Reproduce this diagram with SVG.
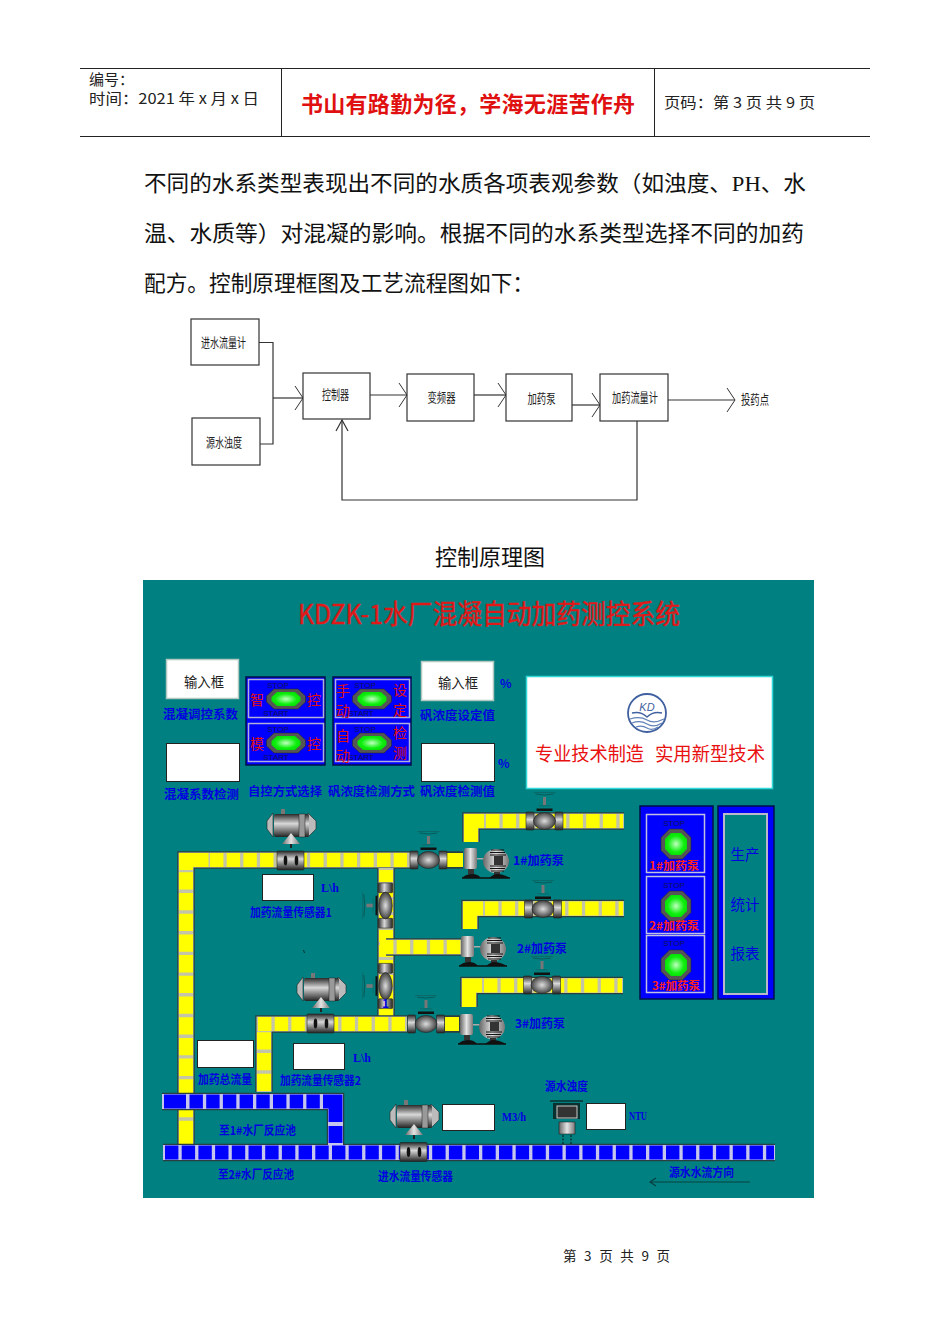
<svg xmlns="http://www.w3.org/2000/svg" width="950" height="1344" viewBox="0 0 950 1344">
<style>
text{font-family:"Noto Sans CJK SC","Liberation Sans",sans-serif}
.b{fill:#111;font-size:22px;font-family:"Liberation Serif","Noto Sans CJK SC",serif}
.hd{fill:#222;font-size:15px}
.fl{fill:#222;font-size:13px;text-anchor:middle}
.fb{fill:#fff;stroke:#333;stroke-width:1.2}
.cn{fill:none;stroke:#333;stroke-width:1.2}
.l{fill:#0000e0;font-size:12px;font-weight:700}
.t{fill:#e01010;font-size:14px;text-anchor:middle}
.s{fill:#101050;font-size:8px;font-family:"Liberation Sans",sans-serif;text-anchor:middle}
.wb{fill:#fff;stroke:#222;stroke-width:1}
.po{fill:none;stroke:#2a3f3f;stroke-width:17.5;stroke-linejoin:miter}
.pc{fill:none;stroke:#c4c4a8;stroke-width:15;stroke-linejoin:miter}
.py{fill:none;stroke:#ff0;stroke-width:14}
.pb{fill:none;stroke:#00f;stroke-width:14}
.pl{fill:none;stroke:#c4c4ec;stroke-width:15;stroke-linejoin:miter}
.h{stroke-dasharray:13.4 3.3}
.v{stroke-dasharray:17.3 3.4}
.pt{fill:#ff2020;font-size:11px;font-weight:700;text-anchor:middle}
</style>
<defs>
<linearGradient id="gv" x1="0" y1="0" x2="0" y2="1"><stop offset="0" stop-color="#2a2a2a"/><stop offset=".42" stop-color="#d8d8d8"/><stop offset="1" stop-color="#222"/></linearGradient>
<linearGradient id="gh" x1="0" y1="0" x2="1" y2="0"><stop offset="0" stop-color="#666"/><stop offset=".5" stop-color="#e4e4e4"/><stop offset="1" stop-color="#777"/></linearGradient>
<radialGradient id="gb" cx=".5" cy=".5" r=".55"><stop offset="0" stop-color="#ddd"/><stop offset="1" stop-color="#333"/></radialGradient>
<radialGradient id="gg" cx=".5" cy=".5" r=".6"><stop offset="0" stop-color="#c0ffc0"/><stop offset=".6" stop-color="#10f010"/><stop offset="1" stop-color="#00d800"/></radialGradient>
<marker id="ah" markerWidth="10" markerHeight="28" refX="9" refY="13" orient="auto" markerUnits="userSpaceOnUse"><path d="M1,1 L9,13 L1,25" fill="none" stroke="#333" stroke-width="1"/></marker>
<g id="valve">
<path d="M-11,-28.500 H11" stroke="#0a6a6a" stroke-width="1"/>
<path d="M-9,-27 Q0,-25 9,-27" fill="none" stroke="#0a5050" stroke-width=".8"/>
<rect x="-1.500" y="-24" width="3" height="9" fill="#777"/>
<rect x="-6" y="-16" width="12" height="1.500" fill="#0a7070"/>
<rect x="-8" y="-12.500" width="16" height="2.500" fill="#111"/>
<rect x="-18.500" y="-9" width="8" height="18" rx="1" fill="url(#gv)" stroke="#222" stroke-width=".6"/>
<rect x="10.500" y="-9" width="8" height="18" rx="1" fill="url(#gv)" stroke="#222" stroke-width=".6"/>
<ellipse rx="11" ry="8.500" fill="url(#gb)" stroke="#222" stroke-width=".6"/>
</g>
<g id="pump">
<rect x="0" y="1" width="13" height="21" rx="2" fill="url(#gh)"/>
<rect x="4" y="22" width="6" height="5" fill="#333"/>
<path d="M-2,31 Q2,27 8,27 Q14,27 17,31 Z" fill="#111"/>
<rect x="13" y="11" width="8" height="1.500" fill="#aaa"/>
<ellipse cx="32" cy="14" rx="13" ry="12" fill="url(#gh)"/>
<path d="M27,3 H40 M26,5.500 H41 M26,8 H42 M26,19 H42 M26,21.500 H41 M27,24 H40" stroke="#111" stroke-width="1.200"/>
<rect x="30" y="9" width="9" height="9" fill="#333"/>
<rect x="30" y="25" width="6" height="3" fill="#333"/>
<path d="M25,31 Q30,27 33,27 Q39,27 46,31 Z" fill="#111"/>
<path d="M-2,31 H46" stroke="#111" stroke-width="1.500"/>
</g>
<g id="meter">
<rect x="0" y="0" width="27" height="19" rx="1" fill="url(#gv)" stroke="#222" stroke-width=".6"/>
<ellipse cx="8.500" cy="9.500" rx="1.800" ry="5" fill="#111"/>
<ellipse cx="19.500" cy="9.500" rx="1.800" ry="5" fill="#111"/>
</g>
<g id="sensor">
<rect x="14" y="0" width="4" height="6" fill="#777"/>
<path d="M0,12 L6,4 V28 L0,20 Z M49,12 L41,4 V28 L49,20 Z" fill="#bbb" stroke="#222" stroke-width=".6"/>
<rect x="7" y="5" width="35" height="23" rx="2" fill="url(#gv)"/>
<rect x="32" y="5" width="6" height="23" fill="#999" stroke="#222" stroke-width=".5"/>
<path d="M15,35 L24,24 L33,35 Z" fill="url(#gh)"/>
<rect x="23" y="35" width="2" height="4" fill="#222"/>
</g>
<g id="lamp">
<polygon points="-12,-10 12,-10 19.500,-3 19.500,3 12,10 -12,10 -19.500,3 -19.500,-3" fill="#555" stroke="#222" stroke-width=".5"/>
<polygon points="-9,-7 9,-7 14.500,-2 14.500,2 9,7 -9,7 -14.500,2 -14.500,-2" fill="url(#gg)"/>
</g>
<g id="lamp2">
<polygon points="-6.500,-15 6.500,-15 15,-6.500 15,6.500 6.500,15 -6.500,15 -15,6.500 -15,-6.500" fill="#555" stroke="#222" stroke-width=".5"/>
<polygon points="-5,-11 5,-11 11,-5 11,5 5,11 -5,11 -11,5 -11,-5" fill="url(#gg)"/>
</g>
</defs>

<rect width="950" height="1344" fill="#fff"/>

<g id="header">
<path d="M80,68.500 H870 M80,136.500 H870 M281.500,68 V136 M654.500,68 V136" stroke="#222" stroke-width="1" fill="none"/>
<text class="hd" x="89" y="85">编号：</text>
<text class="hd" x="89" y="104" textLength="170" lengthAdjust="spacingAndGlyphs">时间：2021 年 x 月 x 日</text>
<text x="301" y="112" fill="#e01010" font-size="22" font-weight="700" textLength="334">书山有路勤为径，学海无涯苦作舟</text>
<text class="hd" x="664" y="108" textLength="151" lengthAdjust="spacingAndGlyphs">页码：第 3 页 共 9 页</text>
</g>

<g id="body-text">
<text class="b" x="144" y="191" textLength="662" lengthAdjust="spacingAndGlyphs">不同的水系类型表现出不同的水质各项表观参数（如浊度、PH、水</text>
<text class="b" x="144" y="241" textLength="660" lengthAdjust="spacingAndGlyphs">温、水质等）对混凝的影响。根据不同的水系类型选择不同的加药</text>
<text class="b" x="144" y="291" textLength="390" lengthAdjust="spacingAndGlyphs">配方。控制原理框图及工艺流程图如下：</text>
<text class="b" x="490" y="565" text-anchor="middle">控制原理图</text>
</g>

<g id="connectors">
<path class="cn" d="M259,342.500 H273 V444 H260"/>
<path class="cn" d="M273,398 H303" marker-end="url(#ah)"/>
<path class="cn" d="M370,395 H407" marker-end="url(#ah)"/>
<path class="cn" d="M474,395 H506" marker-end="url(#ah)"/>
<path class="cn" d="M572,405 H600" marker-end="url(#ah)"/>
<path class="cn" d="M668,400 H735" marker-end="url(#ah)"/>
<path class="cn" d="M637,421 V500 H342 V420"/>
<path class="cn" d="M336,431 L342,420 L348,431"/>
</g>
<g id="n-inflow"><rect class="fb" x="191" y="319" width="68" height="46"/><text class="fl" x="223.500" y="347" textLength="45" lengthAdjust="spacingAndGlyphs">进水流量计</text></g>
<g id="n-turbidity"><rect class="fb" x="192" y="418" width="68" height="47"/><text class="fl" x="224" y="447" textLength="36" lengthAdjust="spacingAndGlyphs">源水浊度</text></g>
<g id="n-controller"><rect class="fb" x="303" y="373" width="67" height="46"/><text class="fl" x="335.500" y="399" textLength="27" lengthAdjust="spacingAndGlyphs">控制器</text></g>
<g id="n-vfd"><rect class="fb" x="407" y="374" width="67" height="47"/><text class="fl" x="441.500" y="402" textLength="28" lengthAdjust="spacingAndGlyphs">变频器</text></g>
<g id="n-pump"><rect class="fb" x="506" y="374" width="66" height="47"/><text class="fl" x="541.500" y="403" textLength="28" lengthAdjust="spacingAndGlyphs">加药泵</text></g>
<g id="n-dosemeter"><rect class="fb" x="600" y="374" width="68" height="47"/><text class="fl" x="635" y="402" textLength="46" lengthAdjust="spacingAndGlyphs">加药流量计</text></g>
<g id="n-point"><text class="fl" x="755" y="404" textLength="28" lengthAdjust="spacingAndGlyphs">投药点</text></g>

<g id="scada">
<rect x="143" y="580" width="671" height="618" fill="#008080"/>
<text x="298" y="624" fill="#e01818" stroke="#e01818" stroke-width=".4" font-size="27" textLength="382" lengthAdjust="spacingAndGlyphs">KDZK-1水厂混凝自动加药测控系统</text>

<g id="inputs">
<rect x="166.500" y="659.500" width="72" height="39" fill="#fff" stroke="#b0c8c0" stroke-width="1.500"/>
<text x="184" y="687" font-size="14" fill="#222" textLength="40" lengthAdjust="spacingAndGlyphs">输入框</text>
<rect x="421.500" y="661.500" width="72" height="39" fill="#fff" stroke="#b0c8c0" stroke-width="1.500"/>
<text x="438" y="688" font-size="14" fill="#222" textLength="40" lengthAdjust="spacingAndGlyphs">输入框</text>
<rect class="wb" x="166.500" y="743.500" width="73" height="38"/>
<rect class="wb" x="421.500" y="743.500" width="73" height="38"/>
<rect class="wb" x="262.500" y="874.500" width="51" height="26"/>
<rect class="wb" x="197.500" y="1040.500" width="56" height="27"/>
<rect class="wb" x="293.500" y="1043.500" width="51" height="26"/>
<rect class="wb" x="442.500" y="1104.500" width="52" height="26"/>
<rect class="wb" x="586.500" y="1103.500" width="39" height="26"/>
</g>

<g id="buttons">
<rect x="246" y="677" width="79" height="88" fill="#00f" stroke="#00104a" stroke-width="1.500"/>
<rect x="333" y="677" width="78" height="88" fill="#00f" stroke="#00104a" stroke-width="1.500"/>
<rect x="248.500" y="679.500" width="75" height="38" fill="#00f" stroke="#b0b0d8" stroke-width="1.500"/>
<rect x="248.500" y="723.500" width="75" height="38" fill="#00f" stroke="#b0b0d8" stroke-width="1.500"/>
<rect x="335.500" y="679.500" width="74" height="38" fill="#00f" stroke="#b0b0d8" stroke-width="1.500"/>
<rect x="335.500" y="723.500" width="74" height="38" fill="#00f" stroke="#b0b0d8" stroke-width="1.500"/>
<use href="#lamp" x="286" y="699"/><use href="#lamp" x="286" y="743"/><use href="#lamp" x="372" y="699"/><use href="#lamp" x="372" y="743"/>
<text class="s" x="278" y="688">STOP</text><text class="s" x="276" y="716">START</text>
<text class="s" x="278" y="732">STOP</text><text class="s" x="276" y="760">START</text>
<text class="s" x="365" y="688">STOP</text><text class="s" x="361" y="716">START</text>
<text class="s" x="365" y="732">STOP</text><text class="s" x="361" y="760">START</text>
<text class="t" x="257" y="705">智</text><text class="t" x="314" y="705">控</text>
<text class="t" x="257" y="749">模</text><text class="t" x="314" y="749">控</text>
<text class="t" x="343" y="696">手</text><text class="t" x="343" y="716">动</text>
<text class="t" x="400" y="695">设</text><text class="t" x="400" y="715">定</text>
<text class="t" x="343" y="741">自</text><text class="t" x="343" y="761">动</text>
<text class="t" x="400" y="738">检</text><text class="t" x="400" y="758">测</text>
</g>

<g id="logo-panel">
<rect x="526.500" y="676.500" width="246" height="112" fill="#fff" stroke="#30d8d8" stroke-width="1.500"/>
<circle cx="647" cy="713" r="19" fill="#fff" stroke="#4060a0" stroke-width="1.800"/>
<path d="M632,713 Q641,711 647,717 Q653,711 662,713" fill="none" stroke="#4060a0" stroke-width="1.300"/>
<path d="M630,719 Q640,716 647,720 T664,719 M632,723 Q640,720 647,724 T662,723 M636,727 Q642,725 647,728 T658,727" fill="none" stroke="#6080b8" stroke-width="1.200"/>
<text x="647" y="711" font-size="11" font-style="italic" fill="#4060a0" text-anchor="middle" style="font-family:'Liberation Sans',sans-serif">KD</text>
<text x="535" y="761" font-size="19" fill="#e81010" textLength="109" lengthAdjust="spacingAndGlyphs">专业技术制造</text>
<text x="655" y="761" font-size="19" fill="#e81010" textLength="110" lengthAdjust="spacingAndGlyphs">实用新型技术</text>
</g>

<g id="pipes-yellow">
<path class="po" d="M186,1144 V860 H410"/><path class="pc" d="M186,1144 V860 H410"/>
<path class="py v" d="M186,1138 V869"/><path class="py" d="M186,1144 V1137"/><path class="py" d="M186,870 V860 H208.500"/><path class="py h" d="M210,860 H410"/>
<path class="po" d="M386,868 V1016"/><path class="pc" d="M386,868 V1016"/><path class="py" d="M386,870 V1016" stroke-dasharray="12 3"/>
<path class="po" d="M386,947 H461"/><path class="pc" d="M386,947 H461"/><path class="py h" d="M380,947 H461"/>
<path class="po" d="M264,1092 V1024 H407"/><path class="pc" d="M264,1092 V1024 H407"/>
<path class="py v" d="M264,1091 V1032"/><path class="py h" d="M258,1024 H407"/>
<path class="po" d="M445,860 H463"/><path class="py" d="M447,860 H463"/>
<path class="po" d="M443,1024 H460"/><path class="py" d="M445,1024 H459"/>
<path class="po" d="M471,842 V821 H624"/><path class="pc" d="M471,842 V821 H624"/><path class="py" d="M471,842 V821 H484"/><path class="py h" d="M486,821 H623"/>
<path class="po" d="M470,929 V908.500 H624"/><path class="pc" d="M470,929 V908.500 H624"/><path class="py" d="M470,929 V908.500 H483"/><path class="py h" d="M485,908.500 H623"/>
<path class="po" d="M469,1007 V985.500 H623"/><path class="pc" d="M469,1007 V985.500 H623"/><path class="py" d="M469,1007 V985.500 H482"/><path class="py h" d="M484,985.500 H622"/>
</g>

<g id="pipes-blue">
<path class="po" d="M163,1152.500 H775"/><path class="pl" d="M163,1152.500 H775"/><path class="pb h" d="M165,1152.500 H774"/>
<path class="po" d="M162,1101.500 H335.500 V1145"/><path class="pl" d="M162,1101.500 H335.500 V1145"/>
<path class="pb" d="M164,1101.500 H186"/><path class="pb h" d="M189.500,1101.500 H320"/>
<path class="pb" d="M323,1101.500 H335.500 V1122"/><path class="pb" d="M335.500,1126 V1143"/>
</g>

<g id="valves">
<use href="#valve" transform="translate(428.500,860)"/>
<use href="#valve" transform="translate(426,1024)"/>
<use href="#valve" transform="translate(544.500,821)"/>
<use href="#valve" transform="translate(543,909)"/>
<use href="#valve" transform="translate(542,985)"/>
<use href="#valve" transform="translate(385.500,905.500) rotate(-90) scale(1.220,.8)"/>
<use href="#valve" transform="translate(385.500,986) rotate(-90) scale(1.220,.8)"/>
</g>
<g id="pumps">
<use href="#pump" transform="translate(464,847)"/>
<use href="#pump" transform="translate(461,935)"/>
<use href="#pump" transform="translate(460,1013)"/>
</g>
<g id="sensors">
<use href="#meter" transform="translate(277,851)"/>
<use href="#meter" transform="translate(307,1014)"/>
<use href="#meter" transform="translate(400,1142.500)"/>
<use href="#sensor" transform="translate(267,809)"/>
<use href="#sensor" transform="translate(297,973)"/>
<use href="#sensor" transform="translate(390,1100)"/>
</g>
<g id="turbidity-sensor">
<path d="M550,1101 H583" stroke="#0a3030" stroke-width="1.500"/>
<rect x="553" y="1103" width="27" height="16" fill="#0a3030"/>
<rect x="557" y="1106" width="20" height="12" fill="#333" stroke="#ccc" stroke-width="1"/>
<rect x="559" y="1122" width="16" height="12" fill="url(#gh)" stroke="#111" stroke-width=".5"/>
<path d="M563,1135 V1144 M571,1135 V1144" stroke="#111" stroke-dasharray="2 1.500"/>
</g>

<g id="pump-panel">
<rect x="640" y="806" width="73" height="193" fill="#00f" stroke="#00104a" stroke-width="1.500"/>
<rect x="646.500" y="814.500" width="58" height="58" fill="#00f" stroke="#c0c0e0" stroke-width="1.500"/>
<rect x="646.500" y="876.500" width="58" height="57" fill="#00f" stroke="#c0c0e0" stroke-width="1.500"/>
<rect x="646.500" y="935.500" width="58" height="57" fill="#00f" stroke="#c0c0e0" stroke-width="1.500"/>
<text class="s" x="674" y="826">STOP</text><text class="s" x="674" y="888">STOP</text><text class="s" x="674" y="946">STOP</text>
<use href="#lamp2" x="676" y="844"/><use href="#lamp2" x="676" y="906"/><use href="#lamp2" x="676" y="965"/>
<text class="pt" x="674" y="870" textLength="50" lengthAdjust="spacingAndGlyphs">1#加药泵</text>
<text class="pt" x="674" y="930" textLength="50" lengthAdjust="spacingAndGlyphs">2#加药泵</text>
<text class="pt" x="676" y="990" textLength="48" lengthAdjust="spacingAndGlyphs">3#加药泵</text>
</g>
<g id="report-panel">
<rect x="718" y="806" width="56" height="193" fill="#00f" stroke="#00104a" stroke-width="1.500"/>
<rect x="724" y="814" width="43" height="180" fill="#008080" stroke="#b8b8c8" stroke-width="2"/>
<text x="745" y="860" font-size="14.500" fill="#0000e0" text-anchor="middle">生产</text>
<text x="745" y="910" font-size="14.500" fill="#0000e0" text-anchor="middle">统计</text>
<text x="745" y="959" font-size="14.500" fill="#0000e0" text-anchor="middle">报表</text>
</g>

<g id="labels">
<text class="l" x="163" y="719" textLength="75" lengthAdjust="spacingAndGlyphs">混凝调控系数</text>
<text class="l" x="164" y="799" textLength="75" lengthAdjust="spacingAndGlyphs">混凝系数检测</text>
<text class="l" x="248" y="796" textLength="74" lengthAdjust="spacingAndGlyphs">自控方式选择</text>
<text class="l" x="328" y="796" textLength="87" lengthAdjust="spacingAndGlyphs">矾浓度检测方式</text>
<text class="l" x="420" y="796" textLength="75" lengthAdjust="spacingAndGlyphs">矾浓度检测值</text>
<text class="l" x="420" y="720" textLength="75" lengthAdjust="spacingAndGlyphs">矾浓度设定值</text>
<text class="l" x="500" y="688">%</text>
<text class="l" x="498" y="768">%</text>
<text class="l" x="513" y="865" textLength="51" lengthAdjust="spacingAndGlyphs">1#加药泵</text>
<text class="l" x="517" y="953" textLength="50" lengthAdjust="spacingAndGlyphs">2#加药泵</text>
<text class="l" x="515" y="1028" textLength="50" lengthAdjust="spacingAndGlyphs">3#加药泵</text>
<text class="l" x="321" y="892" textLength="18" lengthAdjust="spacingAndGlyphs" style="font-family:'Liberation Serif',serif">L\h</text>
<text class="l" x="250" y="917" textLength="82" lengthAdjust="spacingAndGlyphs">加药流量传感器1</text>
<text class="l" x="353" y="1062" textLength="18" lengthAdjust="spacingAndGlyphs" style="font-family:'Liberation Serif',serif">L\h</text>
<text class="l" x="280" y="1085" textLength="81" lengthAdjust="spacingAndGlyphs">加药流量传感器2</text>
<text class="l" x="198" y="1084" textLength="54" lengthAdjust="spacingAndGlyphs">加药总流量</text>
<text class="l" x="219" y="1135" textLength="77" lengthAdjust="spacingAndGlyphs">至1#水厂反应池</text>
<text class="l" x="218" y="1179" textLength="76" lengthAdjust="spacingAndGlyphs">至2#水厂反应池</text>
<text class="l" x="378" y="1181" textLength="75" lengthAdjust="spacingAndGlyphs">进水流量传感器</text>
<text class="l" x="545" y="1091" textLength="43" lengthAdjust="spacingAndGlyphs">源水浊度</text>
<text class="l" x="502" y="1121" textLength="24" lengthAdjust="spacingAndGlyphs" style="font-family:'Liberation Serif',serif">M3/h</text>
<text class="l" x="629" y="1120" textLength="18" lengthAdjust="spacingAndGlyphs" style="font-family:'Liberation Serif',serif">NTU</text>
<text class="l" x="669" y="1177" textLength="65" lengthAdjust="spacingAndGlyphs">源水水流方向</text>
<text class="l" x="382" y="1008" font-size="10">1</text>
<path d="M750,1182 H650 M656,1178 L650,1182 L656,1186" fill="none" stroke="#0a4040" stroke-width="1.200"/>
<path d="M303.500,950 L304.500,953" stroke="#0a3030" stroke-width="1"/>
</g>
</g>

<text id="footer" x="563" y="1261" font-size="13.500" fill="#222" textLength="107" lengthAdjust="spacing">第 3 页 共 9 页</text>
</svg>
